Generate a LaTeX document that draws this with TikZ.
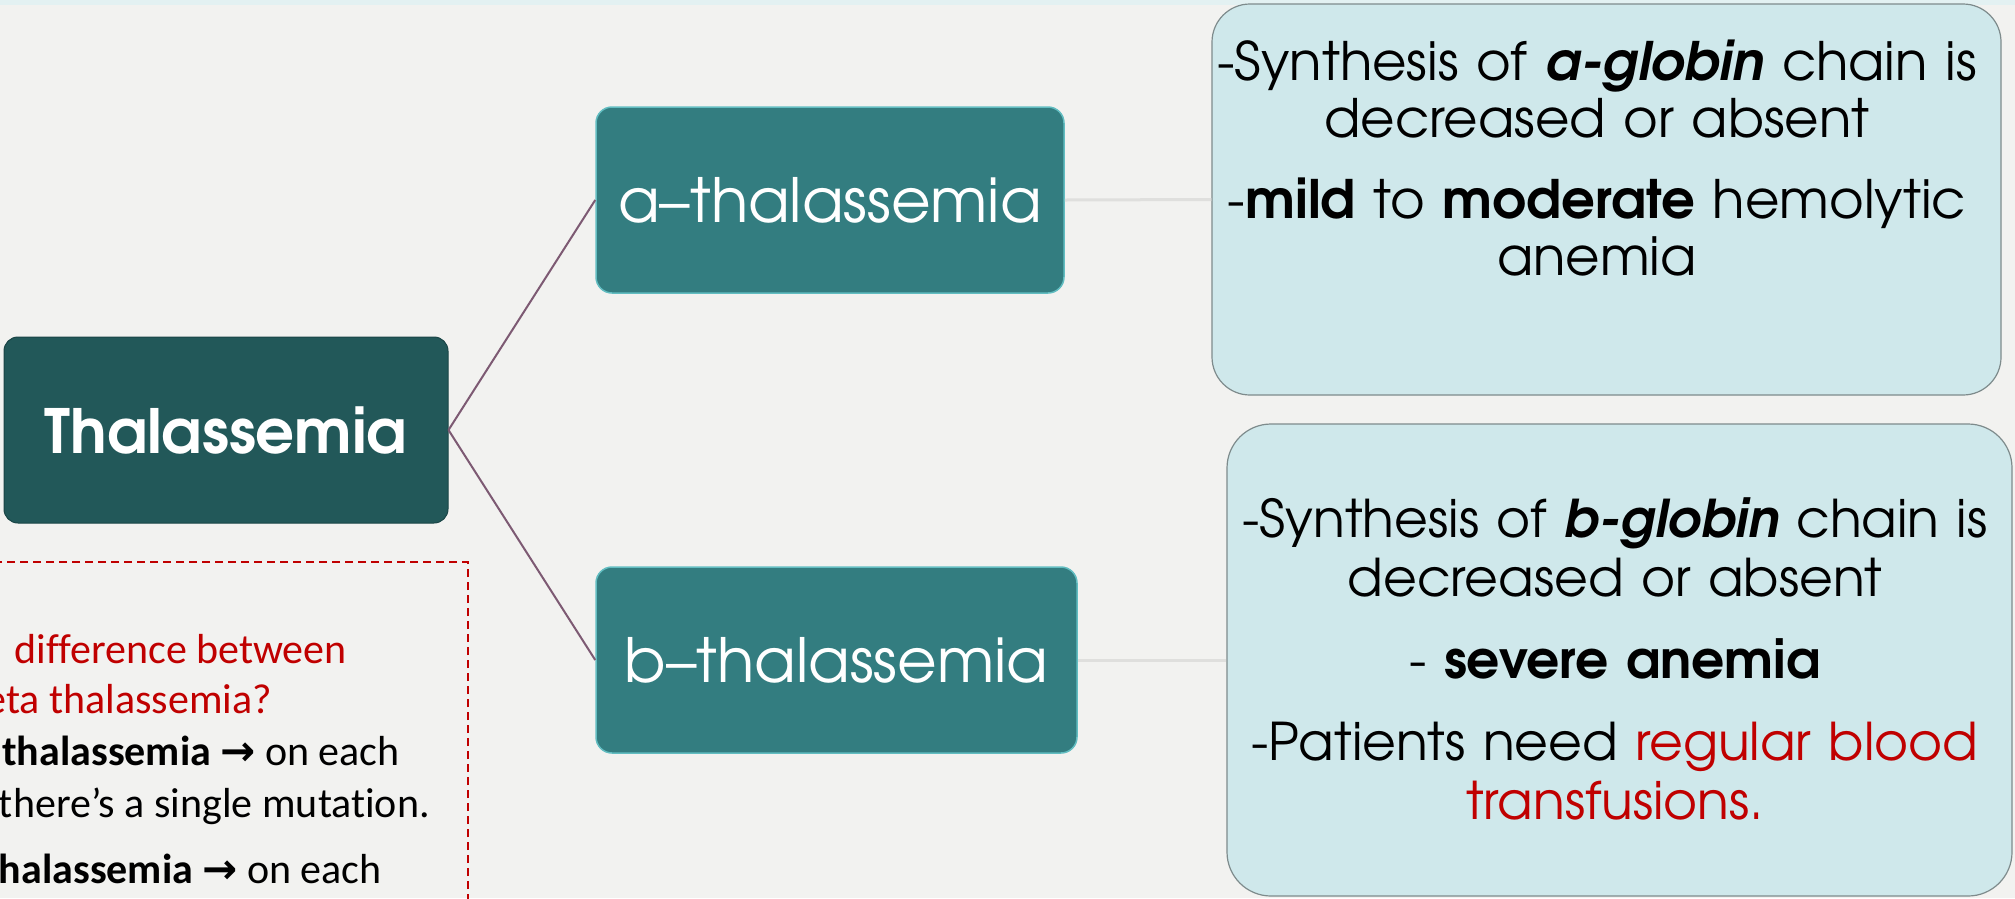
\documentclass[tikz,border=0pt]{standalone}
\usepackage{fontspec}
\IfFontExistsTF{TeX Gyre Adventor}{\setmainfont{TeX Gyre Adventor}}{\setmainfont{Poppins}}
\newfontfamily\calibri[Ligatures=NoCommon]{Carlito}
\newfontfamily\symb{DejaVu Sans}
\usepackage{xcolor}
\usepackage{tikz}
\usetikzlibrary{positioning}
\definecolor{bgcol}{HTML}{F2F2F0}
\definecolor{bandcol}{HTML}{E3F1F2}
\definecolor{rootfill}{HTML}{225859}
\definecolor{rootline}{HTML}{1A4546}
\definecolor{branchfill}{HTML}{337D80}
\definecolor{branchline}{HTML}{62BDC1}
\definecolor{infofill}{HTML}{CFE8EB}
\definecolor{infoline}{HTML}{7E8B8C}
\definecolor{linkcol}{HTML}{7D5A73}
\definecolor{sublinkcol}{HTML}{DFDFDD}
\definecolor{notered}{HTML}{C00000}

\begin{document}
\begin{tikzpicture}[x=1pt,y=-1pt,
    every node/.style={inner sep=0pt},
    root/.style    = {rounded corners=14pt, fill=rootfill, draw=rootline,
      line width=1pt, text=white, font=\bfseries\fontsize{61}{70}\selectfont,
      minimum width=444pt, minimum height=186pt},
    branch/.style  = {rounded corners=16pt, fill=branchfill, draw=branchline,
      line width=1.5pt, text=white, font=\fontsize{61}{70}\selectfont,
      minimum height=186pt},
    infobox/.style = {fill=infofill, draw=infoline, line width=1.2pt},
    infotext/.style= {text width=800pt, align=center, anchor=base},
    link/.style    = {draw=linkcol, line width=2pt},
    sublink/.style = {draw=sublinkcol, line width=3pt},
    note/.style    = {font=\calibri\fontsize{42}{52}\selectfont, anchor=base east}
  ]
  \useasboundingbox (0,0) rectangle (2015,898);
  \fill[bgcol] (0,0) rectangle (2015,898);
  \fill[bandcol] (0,0) rectangle (2015,5);

  \node[root] (thal) at (226,430) {Thalassemia};
  \node[branch, minimum width=468pt] (alpha) at (830,200) {a–thalassemia};
  \node[branch, minimum width=481pt] (beta) at (836.5,660) {b–thalassemia};
  \node[infobox, rounded corners=38pt, minimum width=789pt, minimum height=391pt]
    (alphainfo) at (1606.5,199.5) {};
  \node[infobox, rounded corners=44pt, minimum width=785pt, minimum height=472pt]
    (betainfo) at (1619.5,660) {};

  \draw[link] (thal.east) -- (alpha.west);
  \draw[link] (thal.east) -- (beta.west);
  \draw[sublink] (alpha.east) -- (alphainfo.west);
  \draw[sublink] (beta.east) -- (betainfo.west);

  \node[infotext, font=\fontsize{53}{57}\selectfont] (alphatext) at (1597,80)
    {-Synthesis of \textbf{\textit{a-globin}} chain is\\
     decreased or absent\\[24pt]
     -\textbf{mild} to \textbf{moderate} hemolytic\\
     anemia};
  \node[infotext, font=\fontsize{52}{59}\selectfont] (betatext) at (1615,537)
    {-Synthesis of \textbf{\textit{b-globin}} chain is\\
     decreased or absent\\[23pt]
     - \textbf{severe anemia}\\[23pt]
     -Patients need \textcolor{notered}{regular blood}\\
     \textcolor{notered}{transfusions.}};

  \draw[notered, line width=1.5pt, dash pattern=on 8pt off 5pt] (-20,562) rectangle (468,930);
  \node[note, text=notered] (q1) at (347,663) {difference between};
  \node[note, text=notered] (q2) at (272,713) {eta thalassemia?};
  \node[note] (q3) at (400,765) {\textbf{thalassemia} {\symb\bfseries →} on each};
  \node[note] (q4) at (430,817) {there’s a single mutation.};
  \node[note] (q5) at (382,883) {\textbf{halassemia} {\symb\bfseries →} on each};
\end{tikzpicture}
\end{document}
